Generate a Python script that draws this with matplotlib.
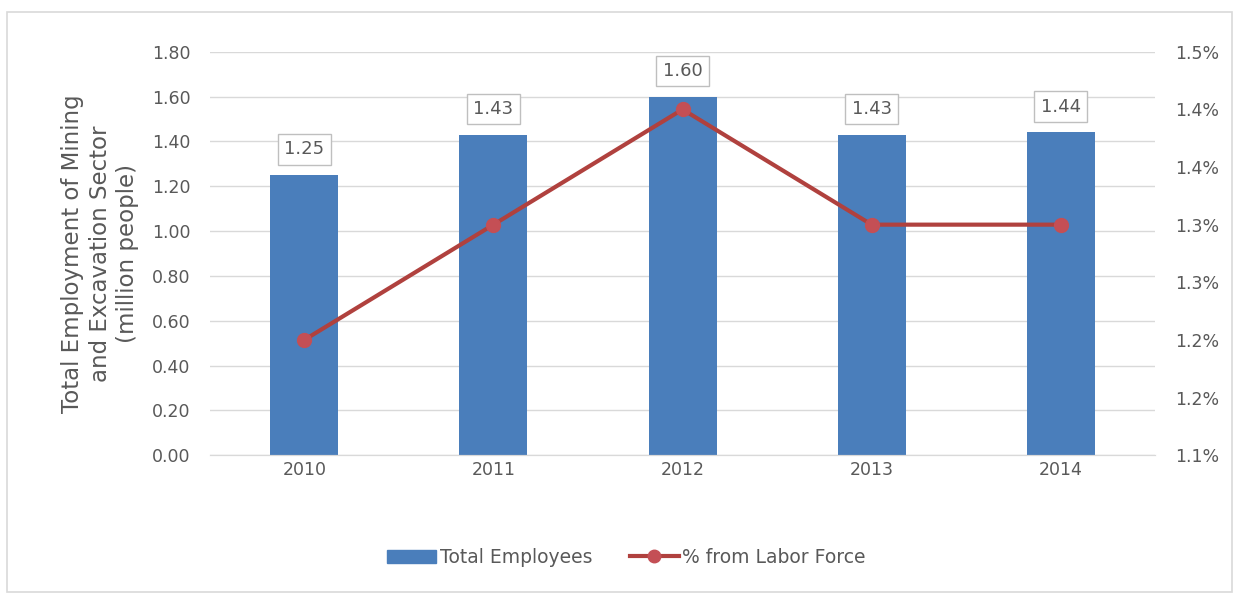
import matplotlib.pyplot as plt
from matplotlib.lines import Line2D
from matplotlib.patches import Patch, Rectangle
from matplotlib.ticker import FuncFormatter
import numpy as np

years = ["2010", "2011", "2012", "2013", "2014"]
employees = [1.25, 1.43, 1.60, 1.43, 1.44]  # million people
labor_pct = [1.20, 1.30, 1.40, 1.30, 1.30]  # % from labor force

BAR_COLOR = "#4a7ebb"
LINE_COLOR = "#b0413e"
TEXT_COLOR = "#595959"
GRID_COLOR = "#d9d9d9"

plt.rcParams["font.family"] = ["DejaVu Sans"]

fig = plt.figure(figsize=(12.41, 5.95), dpi=100)
ax = fig.add_axes([0.169, 0.235, 0.762, 0.678])
ax2 = ax.twinx()

x = np.arange(len(years))
ax.bar(x, employees, width=0.36, color=BAR_COLOR, zorder=2)
for xi, v in zip(x, employees):
    ax.annotate(f"{v:.2f}", (xi, v), xytext=(0, 12), textcoords="offset points",
                ha="center", va="bottom", fontsize=13, color=TEXT_COLOR,
                bbox=dict(boxstyle="square,pad=0.35", fc="white", ec="#bfbfbf", lw=1))

ax2.plot(x, labor_pct, color=LINE_COLOR, lw=3, marker="o", markersize=10,
         markerfacecolor="#c44f55", markeredgecolor="#c44f55", zorder=3)

ax.set_xlim(-0.5, len(years) - 0.5)
ax.set_ylim(0, 1.8)
ax.set_yticks(np.arange(0, 1.81, 0.2))
ax.yaxis.set_major_formatter(FuncFormatter(lambda v, p: f"{v:.2f}"))
ax.set_xticks(x)
ax.set_xticklabels(years)
ax.grid(axis="y", color=GRID_COLOR, lw=1, zorder=0)
ax.set_axisbelow(True)

ax2.set_ylim(1.10, 1.45)
ax2.set_yticks(np.arange(1.10, 1.451, 0.05))
ax2.yaxis.set_major_formatter(FuncFormatter(lambda v, p: f"{np.floor(v * 10 + 0.5 + 1e-9) / 10:.1f}%"))

for a in (ax, ax2):
    for s in ("top", "left", "right"):
        a.spines[s].set_visible(False)
    a.spines["bottom"].set_color(GRID_COLOR)
    a.tick_params(length=0, labelsize=12.5, colors=TEXT_COLOR)
ax.tick_params(axis="y", pad=14)
ax2.tick_params(axis="y", pad=14)
ax.tick_params(axis="x", pad=4)

ax.set_ylabel("Total Employment of Mining\nand Excavation Sector\n(million people)",
              fontsize=16.5, color=TEXT_COLOR, labelpad=9, linespacing=1.25)

handles = [Patch(color=BAR_COLOR),
           Line2D([], [], color=LINE_COLOR, lw=3, marker="o", markersize=9,
                  markerfacecolor="#c44f55", markeredgecolor="#c44f55")]
fig.legend(handles, ["Total Employees", "% from Labor Force"], loc="center",
           bbox_to_anchor=(0.505, 0.063), ncol=2, frameon=False, fontsize=13.5,
           handlelength=2.6, handletextpad=0.2, columnspacing=2,
           labelcolor=TEXT_COLOR)

fig.patches.append(Rectangle((0.006, 0.005), 0.987, 0.975, transform=fig.transFigure,
                             fill=False, ec="#d9d9d9", lw=1.2))

fig.savefig("out.png", dpi=100)
